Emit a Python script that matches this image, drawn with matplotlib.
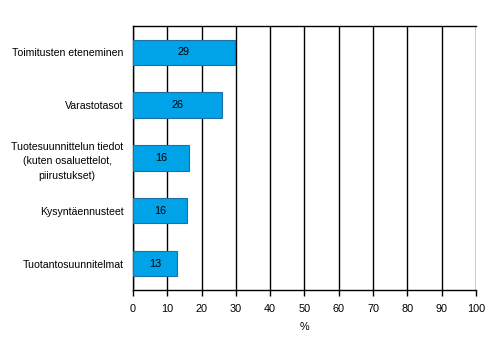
import matplotlib.pyplot as plt

plt.rcParams['font.family'] = ['Liberation Sans', 'DejaVu Sans']

categories = [
    'Toimitusten eteneminen',
    'Varastotasot',
    'Tuotesuunnittelun tiedot\n(kuten osaluettelot,\npiirustukset)',
    'Kysyntäennusteet',
    'Tuotantosuunnitelmat',
]
values = [29.6, 25.9, 16.3, 15.8, 12.9]
labels = ['29', '26', '16', '16', '13']
xticks = list(range(0, 101, 10))

fig = plt.figure(figsize=(4.92, 3.51), dpi=100)
ax = fig.add_axes([0.2703, 0.174, 0.6972, 0.752])

ypos = list(range(len(categories)))
ax.barh(ypos, values, height=0.48, color='#00A2E8', edgecolor='#1E6FA8',
        linewidth=0.8, zorder=3)
for y, v, t in zip(ypos, values, labels):
    ax.text(v / 2, y, t, ha='center', va='center', fontsize=7.8, zorder=4)

ax.set_xlim(0, 100)
ax.set_ylim(len(categories) - 0.5, -0.5)
ax.set_xticks(xticks)
ax.set_xticklabels([str(x) for x in xticks], fontsize=7.8)
ax.set_yticks(ypos)
ax.set_yticklabels(categories, fontsize=7.6, linespacing=1.55)
for lbl in ax.get_yticklabels():
    lbl.set_multialignment('center')
ax.tick_params(axis='y', length=0, pad=7)
ax.tick_params(axis='x', length=4, width=1, pad=6, direction='out')
ax.xaxis.grid(True, color='black', linewidth=1)
ax.set_axisbelow(True)
ax.spines['right'].set_visible(False)
for s in ['left', 'top', 'bottom']:
    ax.spines[s].set_linewidth(1)
ax.set_xlabel('%', fontsize=7.8, labelpad=6)

fig.savefig('out.png', dpi=100)
